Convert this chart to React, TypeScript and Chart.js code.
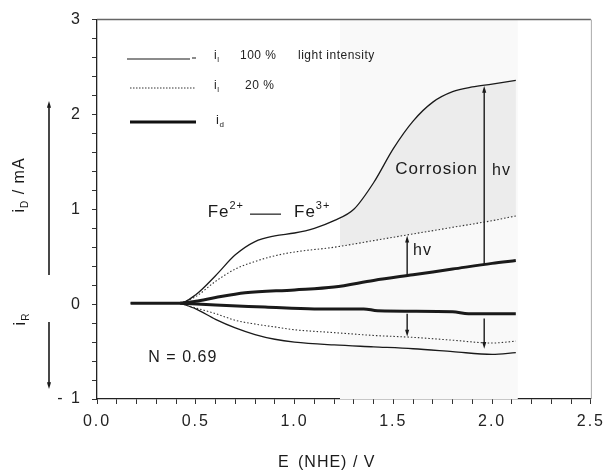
import React, { useEffect, useRef } from 'react';
import { Chart, registerables } from 'chart.js';

Chart.register(...registerables);

const FONT = '"Liberation Sans", Arial, Helvetica, sans-serif';

// ---- data (E in V vs NHE, currents in mA) ----
const E_100 = [0.17, 0.42, 0.5, 0.6, 0.7, 0.8, 0.9, 1.0, 1.1, 1.2, 1.3, 1.4, 1.5, 1.6, 1.7, 1.8, 1.9, 2.0, 2.12];
const iL_100 = [0.01, 0.01, 0.1, 0.3, 0.52, 0.66, 0.72, 0.75, 0.8, 0.88, 1.0, 1.28, 1.64, 1.93, 2.13, 2.24, 2.29, 2.32, 2.36];

const E_20 = [0.42, 0.5, 0.6, 0.7, 0.8, 0.9, 1.0, 1.2, 1.4, 1.6, 1.8, 2.0, 2.12];
const iL_20 = [0.01, 0.08, 0.24, 0.37, 0.45, 0.51, 0.55, 0.6, 0.67, 0.74, 0.81, 0.88, 0.93];

const E_D = [0.17, 0.42, 0.5, 0.6, 0.75, 1.0, 1.2, 1.4, 1.6, 1.8, 2.0, 2.12];
const iD_dark = [0.01, 0.01, 0.03, 0.07, 0.12, 0.15, 0.18, 0.25, 0.31, 0.37, 0.43, 0.46];

const E_RD = [0.42, 0.6, 0.85, 1.1, 1.35, 1.42, 1.8, 1.88, 2.12];
const iR_dark = [0.01, -0.01, -0.03, -0.05, -0.05, -0.07, -0.08, -0.1, -0.1];

const E_R = [0.42, 0.5, 0.6, 0.7, 0.8, 0.9, 1.0, 1.2, 1.4, 1.6, 1.8, 2.0, 2.12];
const iR_20 = [0.01, -0.04, -0.1, -0.17, -0.21, -0.24, -0.27, -0.3, -0.33, -0.35, -0.38, -0.41, -0.39];
const iR_100 = [0.01, -0.05, -0.16, -0.25, -0.32, -0.37, -0.4, -0.43, -0.45, -0.47, -0.5, -0.53, -0.51];

// annotation arrows (data units)
const ARROW_E = [1.96, 1.57, 1.57, 1.96];
const ARROW_FROM = [0.42, 0.31, -0.1, -0.15];
const ARROW_TO = [2.3, 0.72, -0.34, -0.47];

const SHADE_START_E = 1.23;
const SHADE_END_E = 2.13;

const X_MIN = 0;
const X_MAX = 2.5;
const Y_MIN = -1;
const Y_MAX = 3;

const pts = (xs: number[], ys: number[]) => xs.map((x, i) => ({ x, y: ys[i] }));

function drawArrow(ctx: CanvasRenderingContext2D, x0: number, y0: number, x1: number, y1: number, head = 7, width = 1.3) {
  const ang = Math.atan2(y1 - y0, x1 - x0);
  ctx.lineWidth = width;
  ctx.beginPath();
  ctx.moveTo(x0, y0);
  ctx.lineTo(x1 - Math.cos(ang) * head * 0.6, y1 - Math.sin(ang) * head * 0.6);
  ctx.stroke();
  ctx.beginPath();
  ctx.moveTo(x1, y1);
  ctx.lineTo(x1 - head * Math.cos(ang - 0.3), y1 - head * Math.sin(ang - 0.3));
  ctx.lineTo(x1 - head * Math.cos(ang + 0.3), y1 - head * Math.sin(ang + 0.3));
  ctx.closePath();
  ctx.fill();
}

type Part = [string, 'n' | 'sub' | 'sup'];
function richWidth(ctx: CanvasRenderingContext2D, parts: Part[], size: number) {
  let w = 0;
  for (const [t, k] of parts) {
    ctx.font = `${k === 'n' ? size : Math.round(size * 0.65)}px ${FONT}`;
    w += ctx.measureText(t).width;
  }
  return w;
}
function richText(ctx: CanvasRenderingContext2D, parts: Part[], x: number, y: number, size: number) {
  ctx.textAlign = 'left';
  ctx.textBaseline = 'middle';
  let cx = x;
  for (const [t, k] of parts) {
    const s = k === 'n' ? size : Math.round(size * 0.65);
    ctx.font = `${s}px ${FONT}`;
    const dy = k === 'sub' ? size * 0.35 : k === 'sup' ? -size * 0.38 : 0;
    ctx.fillText(t, cx, y + dy);
    cx += ctx.measureText(t).width;
  }
  return cx;
}

const decoPlugin = {
  id: 'deco',
  beforeDraw(chart: any) {
    (chart.ctx as any).letterSpacing = '2px';
  },
  beforeDatasetsDraw(chart: any) {
    const { ctx, chartArea: a, scales } = chart;
    const x = scales.x;
    const y = scales.y;
    (ctx as any).letterSpacing = '0px';
    ctx.save();
    const xs = x.getPixelForValue(SHADE_START_E);
    const xe = x.getPixelForValue(SHADE_END_E);
    ctx.fillStyle = '#f9f9f9';
    ctx.fillRect(xs, a.top, xe - xs, a.bottom - a.top);
    ctx.beginPath();
    ctx.rect(xs, a.top, a.right - xs, a.bottom - a.top);
    ctx.clip();
    ctx.beginPath();
    E_100.forEach((e, i) => {
      const px = x.getPixelForValue(e);
      const py = y.getPixelForValue(iL_100[i]);
      if (i === 0) ctx.moveTo(px, py);
      else ctx.lineTo(px, py);
    });
    for (let i = E_20.length - 1; i >= 0; i--) {
      ctx.lineTo(x.getPixelForValue(E_20[i]), y.getPixelForValue(iL_20[i]));
    }
    ctx.closePath();
    ctx.fillStyle = '#ececec';
    ctx.fill();
    ctx.restore();
  },
  afterDatasetsDraw(chart: any) {
    const { ctx, chartArea: a, scales } = chart;
    const x = scales.x;
    const y = scales.y;
    ctx.save();
    (ctx as any).letterSpacing = '0px';
    ctx.strokeStyle = '#1a1a1a';
    ctx.fillStyle = '#1a1a1a';

    // arrows
    ARROW_E.forEach((e, i) => {
      const px = x.getPixelForValue(e);
      drawArrow(ctx, px, y.getPixelForValue(ARROW_FROM[i]), px, y.getPixelForValue(ARROW_TO[i]), 7, 1.4);
    });

    // frame (top / right)
    ctx.strokeStyle = '#666';
    ctx.lineWidth = 1.5;
    ctx.beginPath();
    ctx.moveTo(a.left, a.top);
    ctx.lineTo(a.right, a.top);
    ctx.stroke();
    ctx.strokeStyle = '#aaa';
    ctx.lineWidth = 1;
    ctx.beginPath();
    ctx.moveTo(a.right + 0.5, a.top);
    ctx.lineTo(a.right + 0.5, a.bottom);
    ctx.stroke();

    ctx.fillStyle = '#1a1a1a';
    ctx.strokeStyle = '#1a1a1a';

    // Fe2+ -> Fe3+
    (ctx as any).letterSpacing = '1px';
    const fx = x.getPixelForValue(0.56);
    const fy = y.getPixelForValue(0.97);
    const cx = richText(ctx, [['Fe', 'n'], ['2+', 'sup']], fx, fy, 17);
    ctx.lineWidth = 1.2;
    ctx.beginPath();
    ctx.moveTo(cx + 6, fy + 2);
    ctx.lineTo(cx + 37, fy + 2);
    ctx.stroke();
    richText(ctx, [['Fe', 'n'], ['3+', 'sup']], cx + 50, fy, 17);

    // Corrosion / hv labels
    richText(ctx, [['Corrosion', 'n']], x.getPixelForValue(1.51), y.getPixelForValue(1.42), 17);
    richText(ctx, [['hv', 'n']], x.getPixelForValue(2.0), y.getPixelForValue(1.41), 16);
    richText(ctx, [['hv', 'n']], x.getPixelForValue(1.6), y.getPixelForValue(0.56), 16);
    richText(ctx, [['N = 0.69', 'n']], x.getPixelForValue(0.26), y.getPixelForValue(-0.56), 16);

    // legend
    (ctx as any).letterSpacing = '0.5px';
    ctx.strokeStyle = '#666';
    ctx.lineWidth = 1.3;
    ctx.beginPath();
    ctx.moveTo(127, 59);
    ctx.lineTo(190, 59);
    ctx.moveTo(192, 58);
    ctx.lineTo(196, 58);
    ctx.stroke();
    ctx.strokeStyle = '#333';
    ctx.lineWidth = 1;
    ctx.setLineDash([1.5, 1.5]);
    ctx.beginPath();
    ctx.moveTo(130, 88);
    ctx.lineTo(196, 88);
    ctx.stroke();
    ctx.setLineDash([]);
    ctx.strokeStyle = '#111';
    ctx.lineWidth = 3.2;
    ctx.beginPath();
    ctx.moveTo(130, 122);
    ctx.lineTo(196, 122);
    ctx.stroke();

    ctx.fillStyle = '#222';
    richText(ctx, [['i', 'n'], ['l', 'sub']], 214, 56, 12);
    richText(ctx, [['100 %', 'n']], 240, 56, 12);
    richText(ctx, [['light intensity', 'n']], 298, 56, 12);
    richText(ctx, [['i', 'n'], ['l', 'sub']], 214, 86, 12);
    richText(ctx, [['20 %', 'n']], 245, 86, 12);
    richText(ctx, [['i', 'n'], ['d', 'sub']], 216, 120, 13);

    // x-axis title
    (ctx as any).letterSpacing = '1px';
    ctx.fillStyle = '#1a1a1a';
    richText(ctx, [['E', 'n']], 278, 463, 16);
    richText(ctx, [['(NHE) / V', 'n']], 298, 463, 16);

    // y-axis titles (rotated)
    const drawRot = (parts: Part[], cxp: number, cyp: number, size: number) => {
      ctx.save();
      ctx.translate(cxp, cyp);
      ctx.rotate(-Math.PI / 2);
      const w = richWidth(ctx, parts, size);
      richText(ctx, parts, -w / 2, 0, size);
      ctx.restore();
    };
    drawRot([['i', 'n'], ['D', 'sub'], [' / mA', 'n']], 20, 185, 16);
    drawRot([['i', 'n'], ['R', 'sub']], 21, 319, 16);

    ctx.strokeStyle = '#1a1a1a';
    ctx.fillStyle = '#1a1a1a';
    drawArrow(ctx, 49, 275, 49, 101, 7, 1.6);
    drawArrow(ctx, 49, 322, 49, 389, 7, 1.6);

    ctx.restore();
  },
};

export default function App() {
  const ref = useRef<HTMLCanvasElement | null>(null);
  useEffect(() => {
    if (!ref.current) return;
    const line = (data: { x: number; y: number }[], width: number, dash: number[] = [], color = '#1a1a1a') => ({
      data,
      borderColor: color,
      borderWidth: width,
      borderDash: dash,
      pointRadius: 0,
      fill: false,
      cubicInterpolationMode: 'monotone' as const,
    });
    const chart = new Chart(ref.current, {
      type: 'line',
      data: {
        datasets: [
          { label: 'i_l 100 %', ...line(pts(E_100, iL_100), 1.3) },
          { label: 'i_l 20 %', ...line(pts(E_20, iL_20), 1.1, [1.5, 2], '#333') },
          { label: 'i_d', ...line(pts(E_D, iD_dark), 3) },
          { label: 'i_R dark', ...line(pts(E_RD, iR_dark), 3) },
          { label: 'i_R 20 %', ...line(pts(E_R, iR_20), 1.1, [1.5, 2], '#333') },
          { label: 'i_R 100 %', ...line(pts(E_R, iR_100), 1.3) },
        ],
      },
      options: {
        responsive: false,
        animation: false,
        devicePixelRatio: 1,
        layout: { padding: { top: 16, right: 17, left: 0, bottom: 0 } },
        plugins: { legend: { display: false }, tooltip: { enabled: false } },
        scales: {
          x: {
            type: 'linear',
            min: X_MIN,
            max: X_MAX,
            afterFit: (s: any) => {
              s.height = 74;
            },
            ticks: {
              stepSize: 0.1,
              autoSkip: false,
              maxRotation: 0,
              minRotation: 0,
              padding: 8,
              color: '#222',
              font: { family: FONT, size: 16 },
              callback: (v: any) => {
                const n = Number(v);
                return Math.abs(n * 2 - Math.round(n * 2)) < 1e-6 ? n.toFixed(1) : '';
              },
            },
            grid: { drawOnChartArea: false, drawTicks: true, tickLength: 5, color: '#333' },
            border: { color: '#222', width: 1.3 },
          },
          y: {
            type: 'linear',
            min: Y_MIN,
            max: Y_MAX,
            afterFit: (s: any) => {
              s.width = 97;
            },
            ticks: {
              stepSize: 0.2,
              autoSkip: false,
              padding: 10,
              color: '#222',
              font: { family: FONT, size: 16 },
              callback: (v: any) => {
                const n = Number(v);
                if (Math.abs(n - Math.round(n)) > 1e-6) return '';
                const r = Math.round(n);
                return r < 0 ? '- ' + Math.abs(r) : String(r);
              },
            },
            grid: { drawOnChartArea: false, drawTicks: true, tickLength: 5, color: '#333' },
            border: { color: '#222', width: 1.3 },
          },
        },
      },
      plugins: [decoPlugin],
    });
    return () => chart.destroy();
  }, []);
  return (
    <div style={{ position: 'absolute', left: 0, top: 0, width: 610, height: 473, background: '#fff' }}>
      <canvas ref={ref} width={610} height={473} />
    </div>
  );
}
